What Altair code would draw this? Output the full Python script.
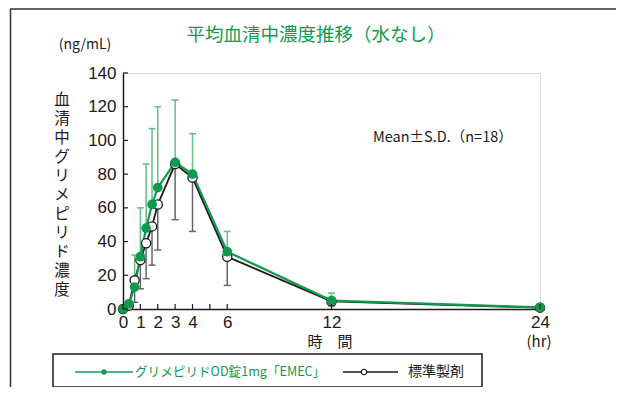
import altair as alt
import pandas as pd

# ---- data ----
times = [0, 0.33, 0.67, 1, 1.33, 1.67, 2, 3, 4, 6, 12, 24]
test_mean = [0, 3, 13, 31, 48, 62, 72, 87, 80, 34, 5, 1]
test_sd = [0, 2, 19, 29, 38, 45, 48, 37, 24, 12, 4.5, 0.5]
ref_mean = [0, 2, 17, 29, 39, 49, 62, 86, 78, 31, 4.5, 0.8]
ref_sd = [0, 2, 13, 17, 21, 23, 27, 33, 32, 17, 2.5, 0.6]

x_tick_values = [0, 1, 2, 3, 4, 5, 6, 12, 24]
x_label_values = [0, 1, 2, 3, 4, 6, 12, 24]
y_tick_values = [0, 20, 40, 60, 80, 100, 120, 140]

title_text = "平均血清中濃度推移（水なし）"
unit_text = "(ng/mL)"
y_title_chars = list("血清中グリメピリド濃度")
stats_text = "Mean±S.D.（n=18）"
x_title_text = "時　間"
x_unit_text = "(hr)"
legend_test = "グリメピリドOD錠1mg「EMEC」"
legend_ref = "標準製剤"

# ---- styles ----
GREEN = "#0f9a4f"
LIGHT_GREEN = "#62bd88"
BLACK = "#231815"
GRAY = "#666666"
JP = "Noto Sans CJK JP"
NUM = "Liberation Sans Narrow, Liberation Sans, Arial"

W, H = 417, 236

df = pd.DataFrame({
    "t": times,
    "test": test_mean,
    "test_sd": test_sd,
    "ref": ref_mean,
    "ref_sd": ref_sd,
})
df["test_hi"] = df["test"] + df["test_sd"]
df["ref_lo"] = (df["ref"] - df["ref_sd"]).clip(lower=0)

xscale = alt.Scale(domain=[0, 24], nice=False, zero=False)
yscale = alt.Scale(domain=[0, 140], nice=False)

xaxis = alt.Axis(values=x_label_values, title=None, grid=False, tickSize=0,
                 labelPadding=5, labelFont=NUM, labelFontSize=17, labelColor=BLACK,
                 domainColor=BLACK, domainWidth=1.5, labelFlush=False)
yaxis = alt.Axis(values=y_tick_values, title=None, grid=False, tickSize=0,
                 labelPadding=7, labelFont=NUM, labelFontSize=17, labelColor=BLACK,
                 domainColor=BLACK, domainWidth=1.5, labelFlush=False)


def X(f):
    return alt.X(f"{f}:Q", scale=xscale, axis=xaxis)


def Y(f):
    return alt.Y(f"{f}:Q", scale=yscale, axis=yaxis)


base = alt.Chart(df)

green_err = base.mark_rule(color=LIGHT_GREEN, strokeWidth=1.5).encode(
    x=X("t"), y=Y("test"), y2="test_hi")
green_cap = base.mark_rule(color=LIGHT_GREEN, strokeWidth=1.5, xOffset=-3.5, x2Offset=3.5).encode(
    x=X("t"), x2="t", y=Y("test_hi"))
ref_err = base.mark_rule(color=GRAY, strokeWidth=1.5).encode(
    x=X("t"), y=Y("ref_lo"), y2="ref")
ref_cap = base.mark_rule(color=GRAY, strokeWidth=1.5, xOffset=-3.5, x2Offset=3.5).encode(
    x=X("t"), x2="t", y=Y("ref_lo"))

ref_line = base.mark_line(color=BLACK, strokeWidth=1.8).encode(x=X("t"), y=Y("ref"))
test_line = base.mark_line(color=GREEN, strokeWidth=2.2).encode(x=X("t"), y=Y("test"))
ref_pts = base.mark_circle(fill="white", stroke=BLACK, strokeWidth=1.3, size=85, opacity=1).encode(
    x=X("t"), y=Y("ref"))
test_pts = base.mark_circle(color=GREEN, size=95, opacity=1).encode(x=X("t"), y=Y("test"))

xt = alt.Chart(pd.DataFrame({"t": x_tick_values})).mark_rule(color=BLACK, strokeWidth=1.2).encode(
    x=X("t"), y=alt.value(H), y2=alt.value(H - 5))
yt = alt.Chart(pd.DataFrame({"v": y_tick_values})).mark_rule(color=BLACK, strokeWidth=1.2).encode(
    y=Y("v"), x=alt.value(0), x2=alt.value(5))


def label(text, x, y, size, color=BLACK, align="center", font=JP, baseline="middle"):
    return alt.Chart(pd.DataFrame({"s": [text]})).mark_text(
        align=align, baseline=baseline, font=font, fontSize=size, color=color
    ).encode(text="s:N", x=alt.value(x), y=alt.value(y))


title = label(title_text, 193, -38, 18.5, color=GREEN)
unit = label(unit_text, -38, -28, 14)
ytitle = alt.Chart(pd.DataFrame({"a": [0]})).mark_text(
    text=y_title_chars, align="center", baseline="top", font=JP, fontSize=15.5,
    lineHeight=19, color=BLACK
).encode(x=alt.value(-61), y=alt.value(20))
stats = label(stats_text, 250, 65, 14.5, align="left")
xtitle = label(x_title_text, 207, 269, 15)
xunit = label(x_unit_text, 416, 269, 15)

# legend
box = alt.Chart(pd.DataFrame({"a": [0]})).mark_rect(
    fillOpacity=0, stroke=BLACK, strokeWidth=1.5
).encode(x=alt.value(-70), x2=alt.value(359), y=alt.value(281), y2=alt.value(314))
leg_gline = alt.Chart(pd.DataFrame({"a": [0]})).mark_rule(color=GREEN, strokeWidth=1.6).encode(
    x=alt.value(-48), x2=alt.value(10), y=alt.value(299))
leg_gdot = alt.Chart(pd.DataFrame({"a": [0]})).mark_circle(color=GREEN, size=28, opacity=1).encode(
    x=alt.value(-19), y=alt.value(299))
leg_gtext = label(legend_test, 12, 299, 12.6, color=GREEN, align="left")
leg_bline = alt.Chart(pd.DataFrame({"a": [0]})).mark_rule(color=BLACK, strokeWidth=1.6).encode(
    x=alt.value(220), x2=alt.value(275), y=alt.value(299))
leg_bdot = alt.Chart(pd.DataFrame({"a": [0]})).mark_circle(
    fill="white", stroke=BLACK, strokeWidth=1.2, size=30, opacity=1).encode(
    x=alt.value(241), y=alt.value(299))
leg_btext = label(legend_ref, 285, 299, 14, align="left")

# outer frame
frame_top = alt.Chart(pd.DataFrame({"a": [0]})).mark_rule(color="#333333", strokeWidth=1.5).encode(
    x=alt.value(-113), x2=alt.value(493), y=alt.value(-64))
frame_left = alt.Chart(pd.DataFrame({"a": [0]})).mark_rule(color="#333333", strokeWidth=1.5).encode(
    x=alt.value(-112.5), y=alt.value(-64), y2=alt.value(320))

chart = alt.layer(
    frame_top, frame_left,
    green_err, green_cap, ref_err, ref_cap,
    ref_line, test_line, ref_pts, test_pts,
    xt, yt,
    title, unit, ytitle, stats, xtitle, xunit,
    box, leg_gline, leg_gdot, leg_gtext, leg_bline, leg_bdot, leg_btext,
).properties(
    width=W, height=H,
    autosize=alt.AutoSizeParams(type="none"),
    padding={"left": 115, "top": 65, "right": 76, "bottom": 78},
).configure_view(stroke=None).configure(background="white")

chart.save("out.html", embed_options={"renderer": "svg", "actions": False})
